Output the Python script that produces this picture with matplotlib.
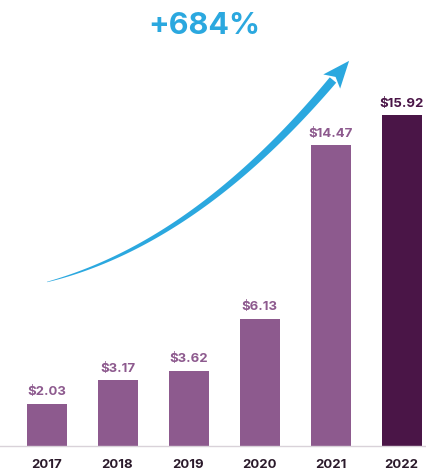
"""
Bar chart of yearly values with a curved growth arrow and headline percentage.
"""
import matplotlib
matplotlib.use("Agg")
import matplotlib.pyplot as plt
import numpy as np
from matplotlib.patches import Polygon

# Data
years = ["2017", "2018", "2019", "2020", "2021", "2022"]
values = [2.03, 3.17, 3.62, 6.13, 14.47, 15.92]
value_labels = ["$2.03", "$3.17", "$3.62", "$6.13", "$14.47", "$15.92"]
headline = "+684%"

# Colours
bar_light = "#8d5a8e"
bar_dark = "#4a1547"
label_light = "#8d5a8e"
year_color = "#2b1a2b"
blue = "#2ba8df"

plt.rcParams['font.family'] = ['Inter', 'DejaVu Sans']

W, H = 426, 472
fig = plt.figure(figsize=(W / 100, H / 100), dpi=100)

# Main bar axes: bar centres at 46.5 px + 71 px per bar, baseline at y=446 px
pitch = 71.0
x0 = 46.5
ax = fig.add_axes([0, (H - 446) / H, 1, 374 / H])
xpos = np.arange(len(years))
colors = [bar_light] * (len(years) - 1) + [bar_dark]
ax.bar(xpos, values, width=40 / pitch, color=colors, zorder=2)
ax.set_xlim(-x0 / pitch, (W - x0) / pitch)
ax.set_ylim(0, 18)

for x, v, lab, c in zip(xpos, values, value_labels, colors):
    lc = bar_dark if c == bar_dark else label_light
    ax.annotate(lab, (x, v), xytext=(0, 4), textcoords="offset points",
                ha="center", va="bottom", fontsize=9.5, fontweight="bold",
                color=lc)

ax.set_xticks(xpos)
ax.set_xticklabels(years, fontsize=9.5, fontweight="bold", color=year_color)
ax.tick_params(axis="x", length=0, pad=9)
ax.set_yticks([])
for side in ["top", "left", "right"]:
    ax.spines[side].set_visible(False)
ax.spines["bottom"].set_color("#d9d2d9")
ax.spines["bottom"].set_linewidth(1.0)
ax.patch.set_alpha(0)

# Overlay in pixel coordinates for the decorative arrow and headline
ov = fig.add_axes([0, 0, 1, 1])
ov.set_xlim(0, W)
ov.set_ylim(H, 0)
ov.axis("off")
ov.patch.set_alpha(0)

# Tapered curved shaft along a quadratic Bezier
p0 = np.array([47.0, 282.0])
p1 = np.array([196.0, 243.0])
p2 = np.array([333.0, 80.0])
t = np.linspace(0, 1, 120)[:, None]
curve = (1 - t) ** 2 * p0 + 2 * t * (1 - t) * p1 + t ** 2 * p2
deriv = 2 * (1 - t) * (p1 - p0) + 2 * t * (p2 - p1)
tang = deriv / np.linalg.norm(deriv, axis=1, keepdims=True)
norm = np.column_stack([-tang[:, 1], tang[:, 0]])
half_w = 0.2 + 4.0 * t[:, 0] ** 0.8
left = curve + norm * half_w[:, None]
right = curve - norm * half_w[:, None]
shaft = np.vstack([left, right[::-1]])
ov.add_patch(Polygon(shaft, closed=True, fc=blue, ec="none", zorder=3))

# Arrow head
d = tang[-1]
n = np.array([-d[1], d[0]])
base = p2 - d * 2
tip = p2 + d * 25
head = np.array([tip, base + n * 11, base + d * 6, base - n * 11])
ov.add_patch(Polygon(head, closed=True, fc=blue, ec="none", zorder=3))

ov.text(204, 26, headline, ha="center", va="center", fontsize=22,
        fontweight="bold", color=blue)

fig.savefig("out.png", dpi=100)
